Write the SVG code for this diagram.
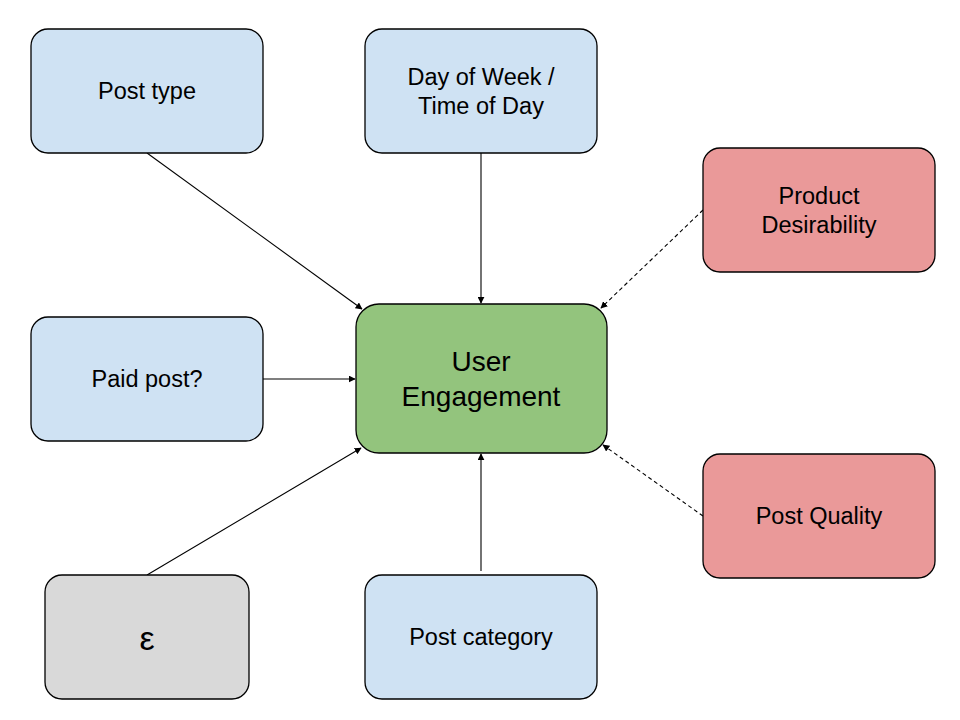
<svg xmlns="http://www.w3.org/2000/svg" width="960" height="720" viewBox="0 0 960 720">
<defs>
<style>
.box{stroke:#000;stroke-width:1.3}
.blue{fill:#cfe2f3}.red{fill:#ea9999}.green{fill:#93c47d}.gray{fill:#d9d9d9}
text{font-family:"Liberation Sans",Arial,sans-serif;font-size:23.5px;fill:#000;text-anchor:middle}
.big{font-size:28px}
.eps{font-size:34px}
.c{stroke:#000;stroke-width:1.1;fill:none;marker-end:url(#ah)}
.d{stroke-dasharray:4,3}
</style>
<marker id="ah" viewBox="0 0 10 10" refX="9" refY="5" markerWidth="7" markerHeight="7" orient="auto" markerUnits="userSpaceOnUse"><path d="M0,0 L10,5 L0,10 z" fill="#000"/></marker>
</defs>
<rect width="960" height="720" fill="#fff"/>
<g id="connectors">
<line class="c" x1="147" y1="153" x2="362" y2="309"/>
<line class="c" x1="481" y1="153" x2="481" y2="303"/>
<line class="c d" x1="703" y1="210" x2="601" y2="308"/>
<line class="c" x1="263" y1="379" x2="355" y2="379"/>
<line class="c" x1="147" y1="575" x2="361" y2="448"/>
<line class="c" x1="481" y1="571" x2="481" y2="454"/>
<line class="c d" x1="703" y1="516" x2="603" y2="445"/>
</g>
<g id="post-type"><rect class="box blue" x="31" y="29" width="232" height="124" rx="17"/><text x="147" y="99">Post type</text></g>
<g id="day-of-week"><rect class="box blue" x="365" y="29" width="232" height="124" rx="17"/><text x="481" y="85">Day of Week /</text><text x="481" y="114">Time of Day</text></g>
<g id="product-desirability"><rect class="box red" x="703" y="148" width="232" height="124" rx="17"/><text x="819" y="204">Product</text><text x="819" y="233">Desirability</text></g>
<g id="user-engagement"><rect class="box green" x="356" y="304" width="251" height="149" rx="23"/><text class="big" x="481" y="371">User</text><text class="big" x="481" y="406">Engagement</text></g>
<g id="paid-post"><rect class="box blue" x="31" y="317" width="232" height="124" rx="17"/><text x="147" y="387">Paid post?</text></g>
<g id="post-quality"><rect class="box red" x="703" y="454" width="232" height="124" rx="17"/><text x="819" y="524">Post Quality</text></g>
<g id="epsilon"><rect class="box gray" x="45" y="575" width="204" height="124" rx="17"/><text class="eps" x="147" y="650">ε</text></g>
<g id="post-category"><rect class="box blue" x="365" y="575" width="232" height="124" rx="17"/><text x="481" y="645">Post category</text></g>
</svg>
